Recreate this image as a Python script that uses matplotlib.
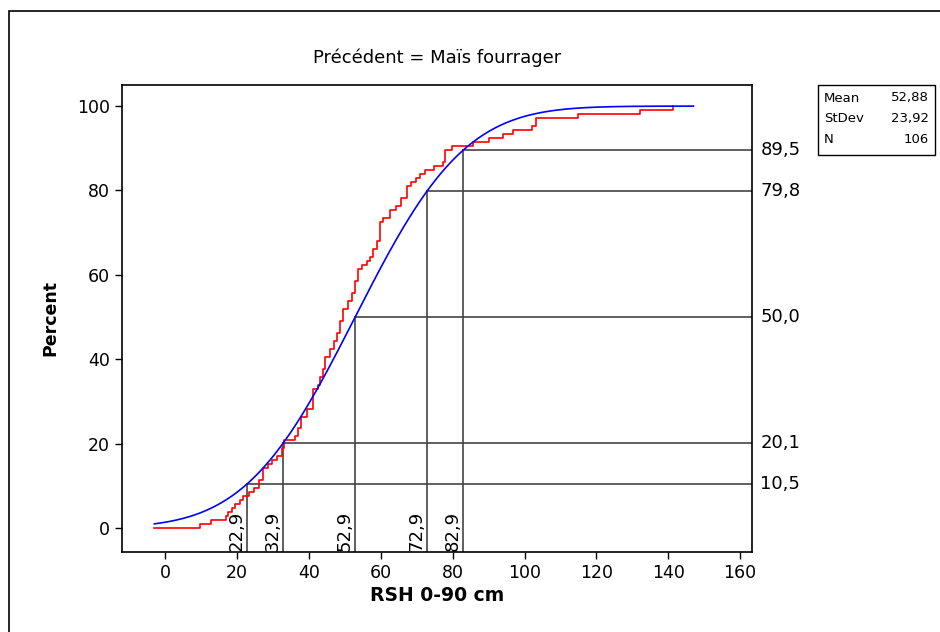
import math
import numpy as np
import matplotlib
matplotlib.use('Agg')
import matplotlib.pyplot as plt
from matplotlib.patches import Rectangle

rsh_values = [9.7, 12.7, 17.0, 17.6, 18.5, 19.5, 20.9, 21.8, 23.2, 24.6,
              26.0, 27.2, 28.7, 29.7, 31.2, 32.5, 33.0, 36.2, 37.0, 37.8,
              39.4, 41.1, 42.6, 43.1, 43.8, 44.5, 45.9, 47.0, 47.8, 48.7,
              49.6, 50.8, 51.9, 52.9, 53.8, 54.7, 56.1, 57.0, 57.9, 58.9,
              59.8, 60.7, 62.6, 64.2, 65.7, 67.2, 68.4, 69.8, 71.0, 72.3,
              74.8, 77.3, 77.9, 79.8, 85.8, 90.0, 94.0, 96.9, 102.0, 103.2,
              115.0, 132.0, 141.3]
rsh_counts = [1, 1, 1, 1, 1, 1, 1, 1, 1, 1,
              2, 3, 1, 1, 1, 2, 2, 1, 2, 3,
              2, 5, 1, 2, 2, 3, 2, 2, 2, 3,
              3, 2, 2, 3, 3, 1, 1, 1, 2, 2,
              5, 1, 2, 1, 2, 3, 1, 1, 1, 1,
              1, 1, 3, 1, 1, 1, 1, 1, 1, 2,
              1, 1, 1]

mean = 52.88
stdev = 23.92
n_obs = 106

# reference lines: x value and percent
ref_x = [22.9, 32.9, 52.9, 72.9, 82.9]
ref_pct = [10.5, 20.1, 50.0, 79.8, 89.5]
ref_x_labels = ['22,9', '32,9', '52,9', '72,9', '82,9']
ref_pct_labels = ['10,5', '20,1', '50,0', '79,8', '89,5']

x_start, x_end = -3, 147
ylim = (-5.7, 105)

plt.rcParams['font.family'] = ['DejaVu Sans']

fig = plt.figure(figsize=(9.4, 6.32), dpi=100)
ax = fig.add_axes([122/940, 1-552/632, 630/940, 467/632])

# outer frame (only left and top fall inside the picture)
fig.patches.append(Rectangle((9/940, -0.1), 1.2, 1.1 - 11/632,
                             transform=fig.transFigure, fill=False,
                             edgecolor='black', linewidth=1.2))

# fitted normal cdf
xs = np.linspace(x_start, x_end, 300)
cdf = [50 * (1 + math.erf((v - mean) / (stdev * math.sqrt(2)))) for v in xs]
ax.plot(xs, cdf, color='blue', lw=1.2, zorder=3)

# empirical cdf
cum = np.cumsum(rsh_counts) / n_obs * 100
ax.step([x_start] + rsh_values, [0] + list(cum), where='post',
        color='red', lw=1.2, zorder=2)

# reference lines
ref_col = '#444444'
for xv, pv, xl, pl in zip(ref_x, ref_pct, ref_x_labels, ref_pct_labels):
    ax.plot([xv, xv], [ylim[0], pv], color=ref_col, lw=1.2, zorder=1)
    ax.plot([xv, 163.3], [pv, pv], color=ref_col, lw=1.2, zorder=1)
    ax.annotate(xl, (xv, ylim[0]), xytext=(-1, 1), textcoords='offset points',
                rotation=90, ha='right', va='bottom', fontsize=13)
    ax.annotate(pl, (1, pv), xycoords=('axes fraction', 'data'),
                xytext=(6, 0), textcoords='offset points',
                ha='left', va='center', fontsize=13)

ax.set_xlim(-12, 163.3)
ax.set_ylim(*ylim)
ax.set_xticks(range(0, 161, 20))
ax.set_yticks(range(0, 101, 20))
ax.tick_params(direction='out', length=5, labelsize=12.5, width=1)
for s in ax.spines.values():
    s.set_linewidth(1.2)

ax.set_title('Précédent = Maïs fourrager', fontsize=13, pad=16)
ax.set_xlabel('RSH 0-90 cm', fontsize=13.5, fontweight='bold', labelpad=3)
ax.set_ylabel('Percent', fontsize=12.5, fontweight='bold', labelpad=13)

# stats box
fig.patches.append(Rectangle((818/940, 1-155/632), 117/940, 70/632,
                             transform=fig.transFigure, fill=False,
                             edgecolor='black', linewidth=1))
rows = [('Mean', '52,88'), ('StDev', '23,92'), ('N', str(n_obs))]
for i, (lab, val) in enumerate(rows):
    yy = 1 - (98 + i * 20.5) / 632
    fig.text(824/940, yy, lab, fontsize=9.5, va='center', ha='left')
    fig.text(929/940, yy, val, fontsize=9.5, va='center', ha='right')

fig.savefig('out.png', dpi=100)
